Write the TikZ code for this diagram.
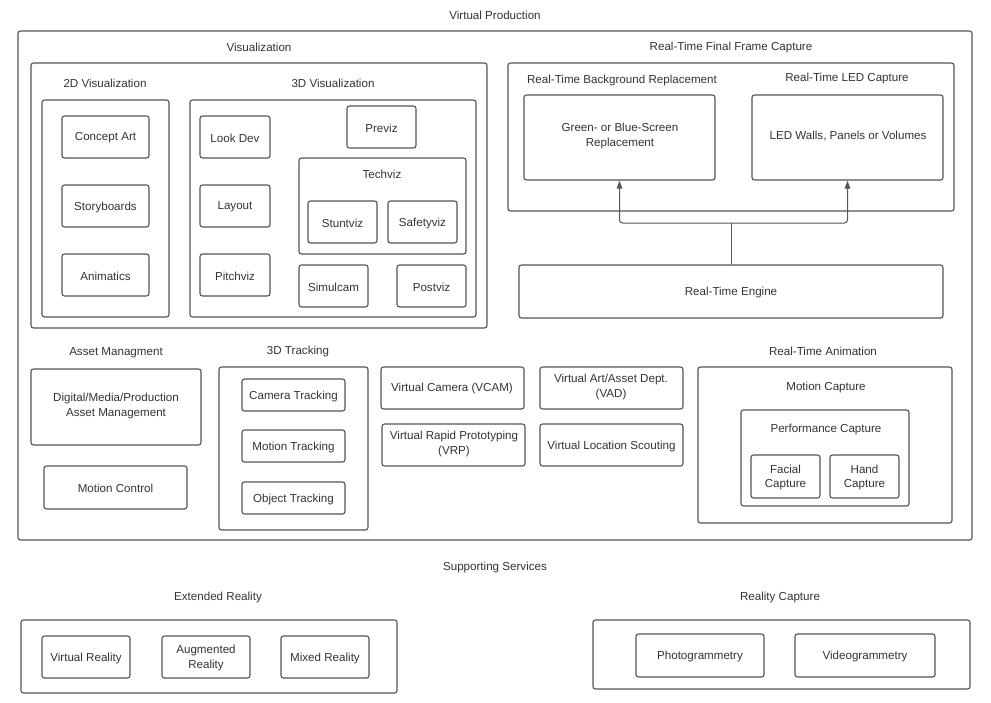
\documentclass[tikz,border=0pt]{standalone}
\usepackage{fontspec}
\setmainfont{Liberation Sans}
\usetikzlibrary{fit,arrows.meta}
\definecolor{ln}{HTML}{555555}
\definecolor{tx}{HTML}{333333}
\tikzset{
  box/.style={draw=ln, line width=1.1pt, rounded corners=2.5pt, inner sep=0pt},
  lbl/.style={text=tx, font=\fontsize{11.6}{14.2}\selectfont, inner sep=0pt, align=center, yshift=-1pt},
  arr/.style={draw=ln, line width=1pt, -{Triangle[length=8pt,width=5.5pt]}},
  conn/.style={draw=ln, line width=1pt}
}
\newcommand\bx[6]{\node[box,fit={(#2,-#3)(#4,-#5)}] (#1) {};
  \node[lbl] (#1-t) at (#1.center) {#6};}
\begin{document}
\begin{tikzpicture}[x=1pt,y=1pt]
\useasboundingbox (0,0) rectangle (991,-702);
% top
\node[lbl] (tVP) at (495,-14) {Virtual Production};
\bx{vp}{18}{31}{972}{540}{}
% Visualization
\node[lbl] (tVis) at (259,-46) {Visualization};
\bx{vis}{31}{63}{487}{328}{}
\node[lbl] (t2d) at (105,-82) {2D Visualization};
\bx{v2d}{42}{100}{169}{317}{}
\bx{ca}{62}{116}{149}{158}{Concept Art}
\bx{sb}{62}{185}{149}{227}{Storyboards}
\bx{an}{62}{254}{149}{296}{Animatics}
\node[lbl] (t3d) at (333,-82) {3D Visualization};
\bx{v3d}{190}{100}{476}{317}{}
\bx{ld}{200}{116}{270}{158}{Look Dev}
\bx{lay}{200}{185}{270}{227}{Layout}
\bx{pit}{200}{254}{270}{296}{Pitchviz}
\bx{pre}{347}{106}{416}{148}{Previz}
\bx{tech}{299}{158}{466}{254}{}
\node[lbl] (tTech) at (382,-173) {Techviz};
\bx{stu}{308}{201}{377}{243}{Stuntviz}
\bx{saf}{388}{201}{457}{243}{Safetyviz}
\bx{sim}{299}{265}{368}{307}{Simulcam}
\bx{pos}{397}{265}{466}{307}{Postviz}
% Real-time final frame capture
\node[lbl] (tRT) at (731,-46) {Real-Time Final Frame Capture};
\bx{rtf}{508}{63}{954}{211}{}
\node[lbl] (tBG) at (622,-79) {Real-Time Background Replacement};
\bx{bgr}{524}{95}{715}{180}{}
\node[lbl] (bgr-t) at (620,-135) {Green- or Blue-Screen\\Replacement};
\node[lbl] (tLED) at (847,-77) {Real-Time LED Capture};
\bx{led}{752}{95}{943}{180}{}
\node[lbl] (led-t) at (848,-135) {LED Walls, Panels or Volumes};
\bx{eng}{519}{265}{943}{318}{Real-Time Engine}
\coordinate (j) at (731,-223);
\draw[conn] (eng.north) -- (j);
\draw[arr, rounded corners=3pt] (j) -| (bgr.south);
\draw[arr, rounded corners=3pt] (j) -| (led.south);
% Asset management
\node[lbl] (tAM) at (116,-352) {Asset Managment};
\bx{dam}{31}{369}{201}{445}{}
\node[lbl] (dam-t) at (116,-405) {Digital/Media/Production\\Asset Management};
\bx{mc}{44}{466}{187}{509}{Motion Control}
% 3D tracking
\node[lbl] (t3t) at (298,-350) {3D Tracking};
\bx{trk}{219}{367}{368}{530}{}
\bx{ct}{242}{379}{345}{411}{Camera Tracking}
\bx{mt}{242}{430}{345}{462}{Motion Tracking}
\bx{ot}{242}{482}{345}{514}{Object Tracking}
% virtual
\bx{vcam}{381}{367}{524}{409}{}
\node[lbl] (vcam-t) at (452,-387) {Virtual Camera (VCAM)};
\bx{vrp}{382}{424}{525}{466}{}
\node[lbl] (vrp-t) at (454,-443) {Virtual Rapid Prototyping\\(VRP)};
\bx{vad}{540}{367}{683}{409}{}
\node[lbl] (vad-t) at (611,-386) {Virtual Art/Asset Dept.\\(VAD)};
\bx{vls}{540}{424}{683}{466}{Virtual Location Scouting}
% Real-time animation
\node[lbl] (tRA) at (823,-350) {Real-Time Animation};
\bx{rta}{698}{367}{952}{523}{}
\node[lbl] (tMC) at (826,-386) {Motion Capture};
\bx{pc}{741}{410}{909}{506}{}
\node[lbl] (tPC) at (826,-428) {Performance Capture};
\bx{fc}{751}{455}{820}{498}{Facial\\Capture}
\bx{hc}{830}{455}{899}{498}{Hand\\Capture}
% Supporting services
\node[lbl] (tSS) at (495,-566) {Supporting Services};
\node[lbl] (tXR) at (218,-596) {Extended Reality};
\bx{xr}{21}{620}{397}{693}{}
\bx{vr}{42}{636}{130}{678}{Virtual Reality}
\bx{ar}{162}{636}{250}{678}{Augmented\\Reality}
\bx{mr}{281}{636}{369}{678}{Mixed Reality}
\node[lbl] (tRC) at (780,-596) {Reality Capture};
\bx{rc}{593}{620}{970}{689}{}
\bx{ph}{636}{634}{764}{677}{Photogrammetry}
\bx{vg}{795}{634}{935}{677}{Videogrammetry}
\end{tikzpicture}
\end{document}
